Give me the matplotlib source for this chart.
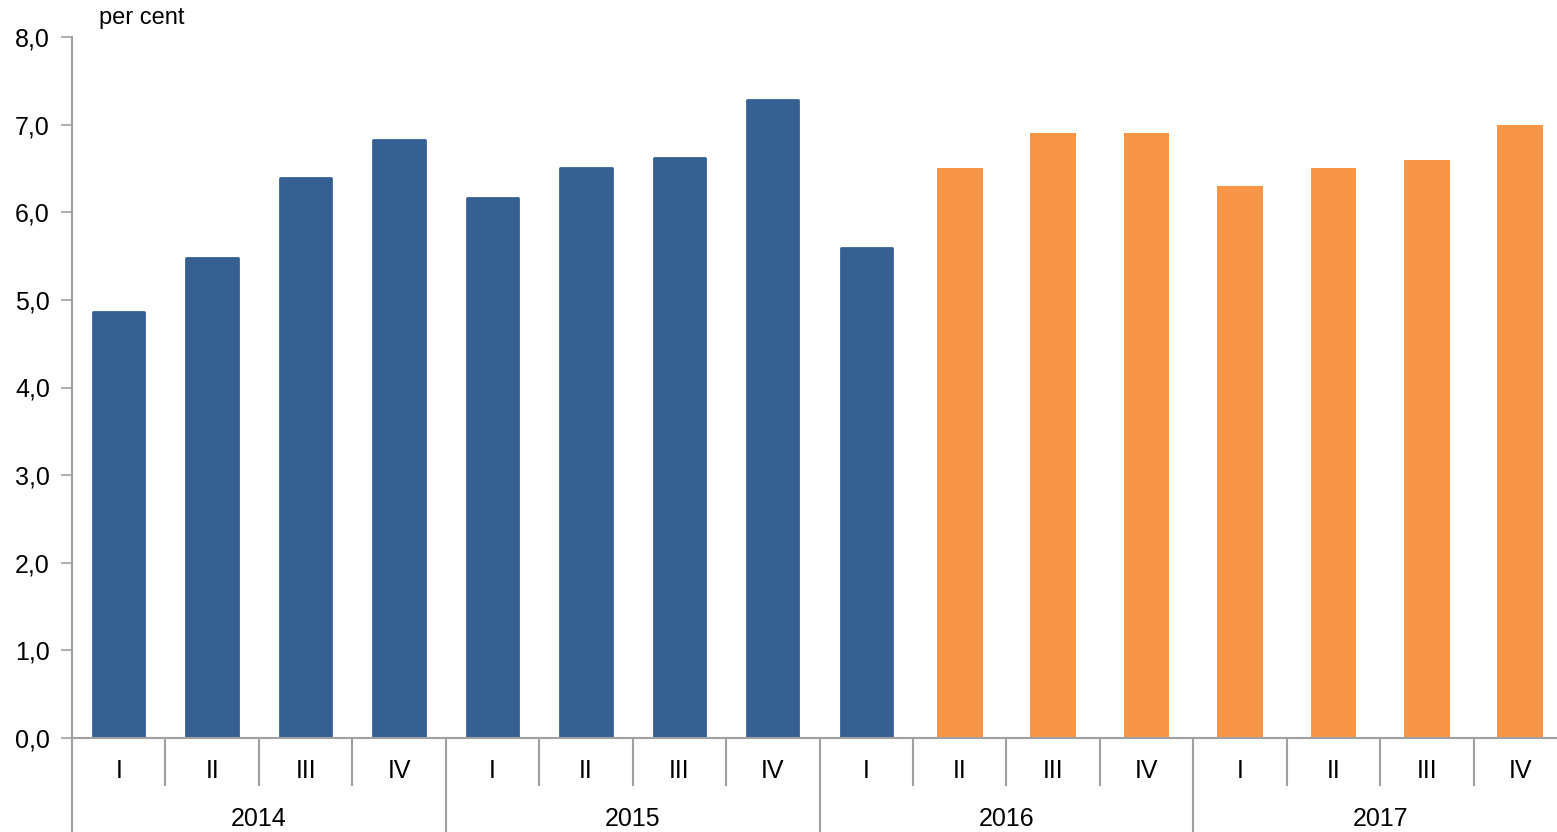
import matplotlib
matplotlib.use('Agg')
import matplotlib.pyplot as plt
from matplotlib.lines import Line2D
from matplotlib.ticker import FuncFormatter
import matplotlib.transforms as mtransforms

plt.rcParams['font.family'] = ['Liberation Sans', 'DejaVu Sans']

# quarterly figures, outturn then forecast
years = ['2014', '2015', '2016', '2017']
quarters = ['I', 'II', 'III', 'IV']
outturn = [4.86, 5.48, 6.39, 6.82, 6.16, 6.51, 6.62, 7.28, 5.59]
forecast = [6.5, 6.9, 6.9, 6.3, 6.5, 6.6, 7.0]

BLUE = '#376092'
ORANGE = '#F79646'
GREY = '#A0A0A0'
FS = 18

fig = plt.figure(figsize=(15.57, 8.32), dpi=100)
W, H = 1557, 832
ax = fig.add_axes([72 / W, (H - 738) / H, (1567 - 72) / W, (738 - 37) / H])

x_out = list(range(len(outturn)))
x_fc = list(range(len(outturn), len(outturn) + len(forecast)))

# blue bars get slightly rounded tops via a round-joined edge
ax.bar(x_out, outturn, width=0.55, color=BLUE, edgecolor=BLUE,
       linewidth=2, joinstyle='round')
ax.bar(x_fc, forecast, width=0.49, color=ORANGE, linewidth=0)

ax.set_xlim(-0.5, 15.5)
ax.set_ylim(0, 8)
ax.set_yticks(range(0, 9))
ax.yaxis.set_major_formatter(FuncFormatter(lambda v, p: f'{v:.1f}'.replace('.', ',')))
ax.tick_params(axis='y', labelsize=FS, length=8, width=1.2, color=GREY, pad=8)
ax.set_xticks([])

for s in ['top', 'right']:
    ax.spines[s].set_visible(False)
for s in ['left', 'bottom']:
    ax.spines[s].set_color(GREY)
    ax.spines[s].set_linewidth(1.5)

px = 1.0 / (738 - 37)
ax.text((99 - 72) / (1567 - 72), 1.0 + 8 * px, 'per cent', transform=ax.transAxes,
        fontsize=17, ha='left', va='bottom')

# two-level category axis below the plot
trans = mtransforms.blended_transform_factory(ax.transData, ax.transAxes)
q_drop = -47 * px
y_drop = -(832 - 738) * px - 0.01

n = len(years) * len(quarters)
for i in range(n + 1):
    edge = i - 0.5
    bottom = y_drop if i % 4 == 0 else q_drop
    ax.add_line(Line2D([edge, edge], [0, bottom], transform=trans,
                       color=GREY, lw=1.5, clip_on=False))

for i in range(n):
    ax.text(i, -33 * px, quarters[i % 4], transform=trans, ha='center',
            va='center', fontsize=FS)

for j, yr in enumerate(years):
    ax.text(j * 4 + 1.5, -81 * px, yr, transform=trans, ha='center',
            va='center', fontsize=FS)

fig.savefig('out.png', dpi=100)
